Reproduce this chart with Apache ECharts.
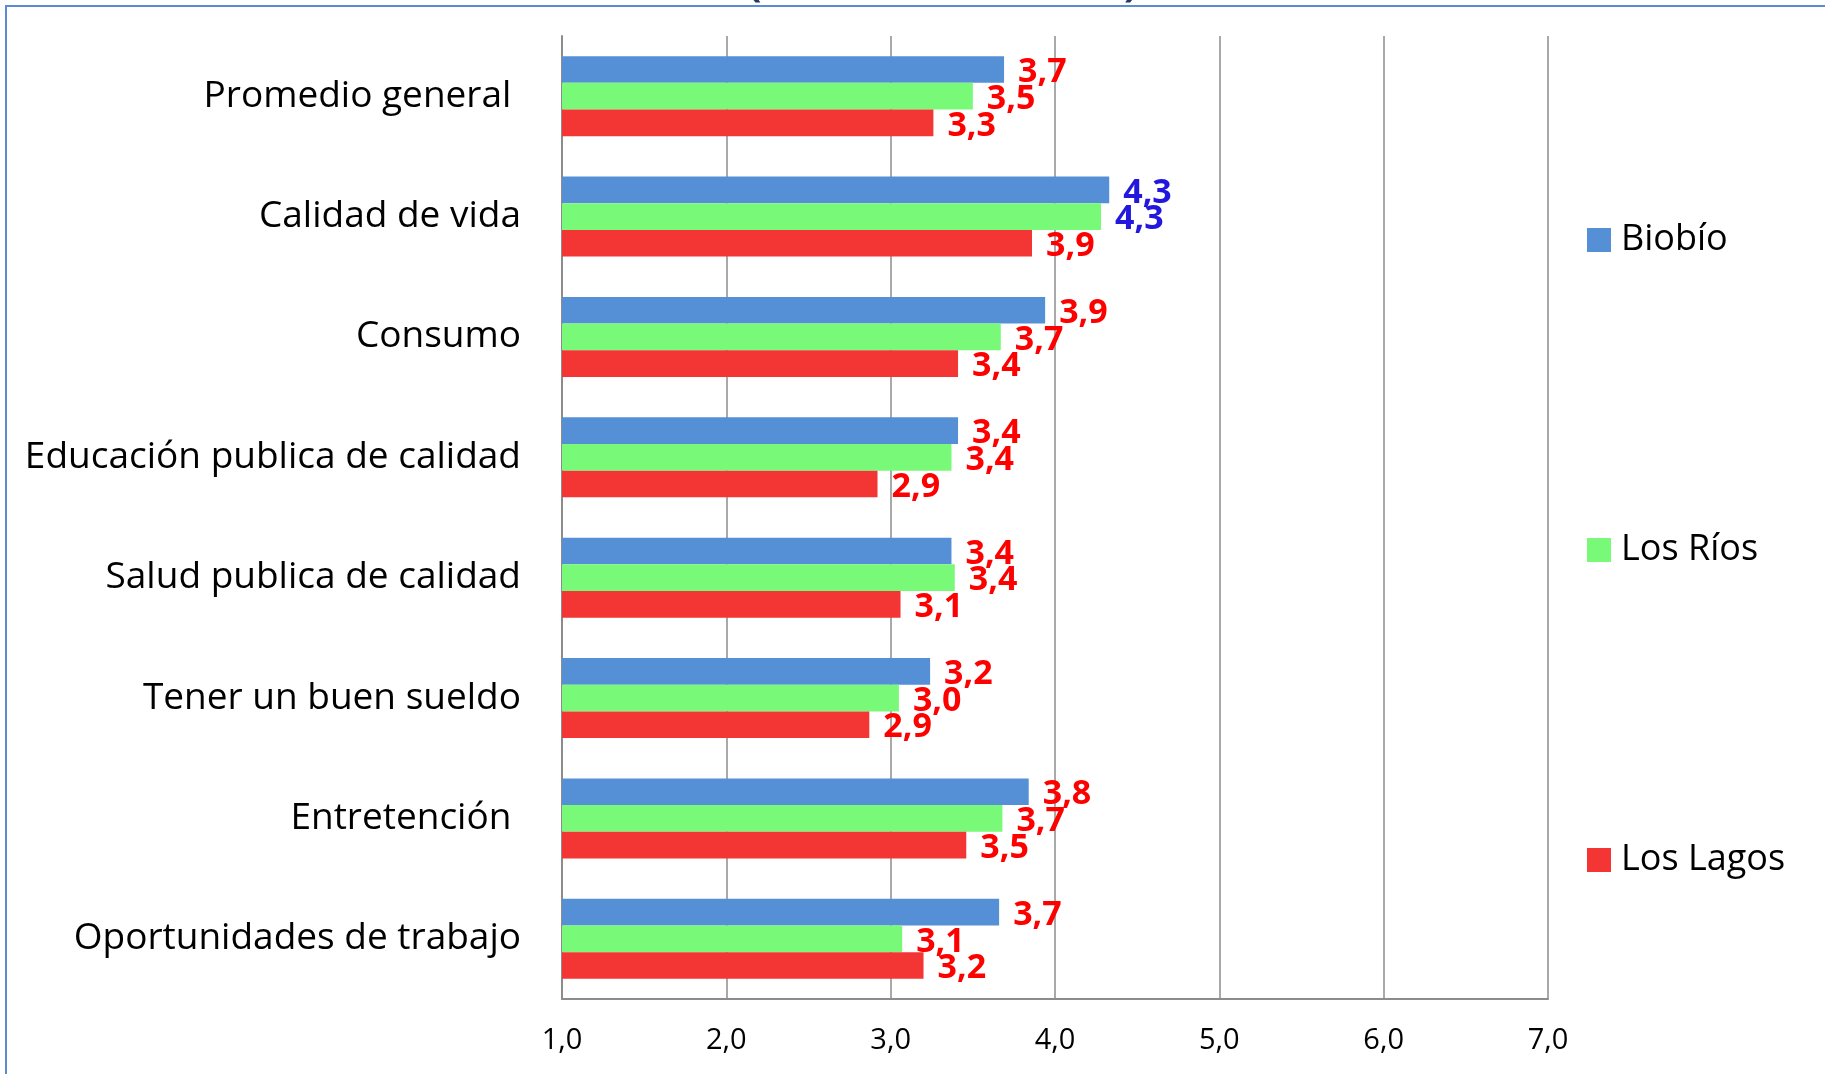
<!DOCTYPE html>
<html>
<head>
<meta charset="utf-8">
<script src="https://cdn.jsdelivr.net/npm/echarts@6/dist/echarts.min.js"></script>
<style>
  html, body { margin: 0; padding: 0; background: #ffffff; }
  #chart { width: 1825px; height: 1074px; }
</style>
</head>
<body>
<div id="chart"></div>
<script>
// ---- data ----
const categories = [
  'Promedio general ',
  'Calidad de vida',
  'Consumo',
  'Educación publica de calidad',
  'Salud publica de calidad',
  'Tener un buen sueldo',
  'Entretención ',
  'Oportunidades de trabajo'
];
const seriesNames = ['Biobío', 'Los Ríos', 'Los Lagos'];
const biobio   = [3.69, 4.33, 3.94, 3.41, 3.37, 3.24, 3.84, 3.66];
const losRios  = [3.50, 4.28, 3.67, 3.37, 3.39, 3.05, 3.68, 3.07];
const losLagos = [3.26, 3.86, 3.41, 2.92, 3.06, 2.87, 3.46, 3.20];
const axisTicks = [1, 2, 3, 4, 5, 6, 7];

// ---- style ----
const barColors = ['#558FD6', '#78F978', '#F33633'];
const labelRed = '#FF0000';
const labelBlue = '#2317DD';
const blueLabelCategory = 'Calidad de vida';
const blueLabelSeries = ['Biobío', 'Los Ríos'];
const fontFam = '"Open Sans", "Noto Sans", sans-serif';

const fmt = v => Number(v).toFixed(1).replace('.', ',');

const allValues = [biobio, losRios, losLagos];

const series = seriesNames.map((name, s) => ({
  name: name,
  type: 'bar',
  barGap: '0%',
  barCategoryGap: '33.5%',
  itemStyle: { color: barColors[s] },
  label: {
    show: true,
    position: 'right',
    distance: 14,
    offset: [0, 3],
    fontFamily: fontFam,
    fontWeight: 'bold',
    fontSize: 34,
    color: labelRed,
    formatter: p => fmt(p.value)
  },
  data: allValues[s].map((v, i) => {
    const isBlue = categories[i] === blueLabelCategory && blueLabelSeries.includes(name);
    return isBlue ? { value: v, label: { color: labelBlue } } : { value: v };
  })
}));

const legendTops = [217, 527, 837];
const legends = seriesNames.map((name, s) => ({
  data: [name],
  orient: 'vertical',
  left: 1582,
  top: legendTops[s],
  icon: 'rect',
  itemWidth: 24,
  itemHeight: 24,
  selectedMode: false,
  textStyle: {
    fontFamily: fontFam,
    fontSize: 36,
    color: '#000000',
    padding: [0, 0, 0, 5]
  }
}));

const chart = echarts.init(document.getElementById('chart'), null, { renderer: 'canvas' });
chart.setOption({
  animation: false,
  backgroundColor: '#ffffff',
  color: barColors,
  grid: { left: 562, right: 277, top: 36, bottom: 75, containLabel: false },
  legend: legends,
  xAxis: {
    type: 'value',
    min: axisTicks[0],
    max: axisTicks[axisTicks.length - 1],
    interval: 1,
    axisLine: { show: true, lineStyle: { color: '#8C8C8C', width: 2 } },
    axisTick: { show: false },
    splitLine: { show: true, lineStyle: { color: '#8C8C8C', width: 1.5 } },
    axisLabel: {
      margin: 27,
      fontFamily: fontFam,
      fontSize: 29,
      color: '#000000',
      formatter: v => fmt(v)
    }
  },
  yAxis: {
    type: 'category',
    inverse: true,
    data: categories,
    axisLine: { show: true, lineStyle: { color: '#8C8C8C', width: 2 } },
    axisTick: { show: false },
    axisLabel: {
      margin: 41,
      fontFamily: fontFam,
      fontSize: 37,
      color: '#000000',
      padding: [9, 0, 0, 0]
    }
  },
  graphic: [
    {
      type: 'rect',
      silent: true,
      shape: { x: 6, y: 6, width: 1900, height: 1200 },
      style: { fill: 'none', stroke: '#5B8BD0', lineWidth: 2 }
    },
    {
      type: 'text',
      silent: true,
      x: 748, y: 5,
      style: { text: '(', font: 'bold 40px "Open Sans"', fill: '#1F3864', verticalAlign: 'bottom' }
    },
    {
      type: 'text',
      silent: true,
      x: 1124, y: 5,
      style: { text: ')', font: 'bold 40px "Open Sans"', fill: '#1F3864', verticalAlign: 'bottom' }
    }
  ],
  series: series
});
</script>
</body>
</html>
